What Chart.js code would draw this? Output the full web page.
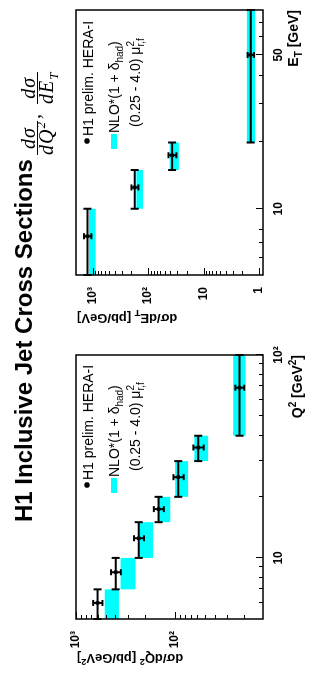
<!DOCTYPE html>
<html>
<head>
<meta charset="utf-8">
<title>H1 Inclusive Jet Cross Sections</title>
<script src="https://cdn.jsdelivr.net/npm/chart.js@4.4.1/dist/chart.umd.min.js"></script>
<style>
html, body { margin: 0; padding: 0; background: #fff; overflow: hidden; }
#page { position: absolute; left: 0; top: 0; width: 680px; height: 314px; transform-origin: 0 0; transform: translate(0, 680px) rotate(-90deg); }
#page canvas { position: absolute; top: 0; }
#q2chart { left: 0; }
#etchart { left: 340px; }
#title { position: absolute; left: 158px; top: 12px; font: bold 24px/24px 'Liberation Sans', Arial, sans-serif; white-space: nowrap; }
.frac { position: absolute; top: 20px; display: flex; flex-direction: column; align-items: center; font: italic 20px/16px 'Liberation Serif', serif; letter-spacing: 1px; }
.frac .n { border-bottom: 1.5px solid #000; align-self: stretch; text-align: center; padding-bottom: 1px; }
.frac sup, .frac sub { font-size: 13px; line-height: 0; }
.comma { position: absolute; font: italic 20px 'Liberation Serif', serif; }
</style>
</head>
<body>
<div id="page">
  <canvas id="q2chart" width="340" height="314"></canvas>
  <canvas id="etchart" width="340" height="314"></canvas>
  <div id="title">H1 Inclusive Jet Cross Sections</div>
  <div class="frac" style="left:525px"><span class="n">dσ</span><span class="d">dQ<sup>2</sup></span></div>
  <div class="comma" style="left:561px;top:22px">,</div>
  <div class="frac" style="left:576px"><span class="n">dσ</span><span class="d">dE<sub>T</sub></span></div>
</div>
<script>
// dsigma/dQ2 : Q2 bins [GeV^2], cross section [pb/GeV^2]
var q2Low = [5, 7, 10, 15, 20, 30, 40];
var q2High = [7, 10, 15, 20, 30, 40, 100];
var q2Centre = [6.0, 8.5, 12.5, 17.4, 25, 35, 69];
var q2Data = [606, 398, 233, 147, 93, 58.5, 22.4];
var q2DataErr = [65, 45, 27, 17, 11, 7, 2.3];
var q2NloLow = [369, 251, 167, 112, 74, 46.5, 19.5];
var q2NloHigh = [513, 355, 229, 149, 100, 64, 26];
var q2Ticks = [6, 7, 8, 9, 10, 20, 30, 40, 50, 60, 70, 80, 90, 100];
var q2TickLabels = { 10: '10', 100: '10²' };
var q2YTicks = [20, 30, 40, 50, 60, 70, 80, 90, 100, 200, 300, 400, 500, 600, 700, 800, 900, 1000];
var q2YTickLabels = { 100: '10²', 1000: '10³' };

// dsigma/dET : ET bins [GeV], cross section [pb/GeV]
var etLow = [5, 10, 15, 20];
var etHigh = [10, 15, 20, 80];
var etCentre = [7.5, 12.5, 17.5, 50];
var etData = [1245, 175, 37, 1.42];
var etDataErr = [190, 25, 6, 0.19];
var etNloLow = [883, 124, 28, 1.18];
var etNloHigh = [1166, 163, 41, 1.66];
var etTicks = [6, 7, 8, 10, 20, 30, 40, 50, 60, 70];
var etTickLabels = { 10: '10', 50: '50' };
var etYTicks = [1, 2, 3, 4, 5, 6, 7, 8, 9, 10, 20, 30, 40, 50, 60, 70, 80, 90, 100, 200, 300, 400, 500, 600, 700, 800, 900, 1000];
var etYTickLabels = { 1: '1', 10: '10', 100: '10²', 1000: '10³' };

var FAM = "'Liberation Sans', Arial, sans-serif";
var CYAN = '#00ffff';

// parts: strings, or {t, k} with k = 1 superscript, -1 subscript, stay = don't advance
function richText(ctx, parts, x, y, size, weight, alignRight) {
  var items = [], w = 0;
  parts.forEach(function (p) {
    if (typeof p === 'string') p = { t: p, k: 0 };
    var s = p.k ? Math.round(size * 0.72) : size;
    var font = weight + ' ' + s + 'px ' + FAM;
    ctx.font = font;
    var m = ctx.measureText(p.t).width;
    var dy = p.k === 1 ? -size * 0.42 : (p.k === -1 ? size * 0.3 : 0);
    items.push({ t: p.t, font: font, dy: dy, adv: p.stay ? 0 : m });
    w += p.stay ? 0 : m;
  });
  var cx = alignRight ? x - w : x;
  ctx.textAlign = 'left';
  ctx.textBaseline = 'alphabetic';
  items.forEach(function (it) {
    ctx.font = it.font;
    ctx.fillText(it.t, cx, y + it.dy);
    cx += it.adv;
  });
}

function line(ctx, x0, y0, x1, y1) {
  ctx.beginPath();
  ctx.moveTo(x0, y0);
  ctx.lineTo(x1, y1);
  ctx.stroke();
}

function makeChart(id, c) {
  var marks = {
    id: 'marks',
    beforeDatasetsDraw: function (chart) {
      var ctx = chart.ctx, x = chart.scales.x, y = chart.scales.y;
      ctx.save();
      ctx.fillStyle = CYAN;
      c.low.forEach(function (lo, i) {
        var x0 = x.getPixelForValue(lo), x1 = x.getPixelForValue(c.high[i]);
        var y0 = y.getPixelForValue(c.nloHigh[i]), y1 = y.getPixelForValue(c.nloLow[i]);
        ctx.fillRect(x0, y0, x1 - x0, y1 - y0);
      });
      ctx.strokeStyle = '#000';
      c.low.forEach(function (lo, i) {
        var x0 = x.getPixelForValue(lo), x1 = x.getPixelForValue(c.high[i]);
        var xc = x.getPixelForValue(c.centre[i]);
        var yc = y.getPixelForValue(c.data[i]);
        var ye0 = y.getPixelForValue(c.data[i] + c.err[i]);
        var ye1 = y.getPixelForValue(c.data[i] - c.err[i]);
        ctx.lineWidth = 2;
        line(ctx, x0, yc, x1, yc);
        line(ctx, x0, yc - 4, x0, yc + 4);
        line(ctx, x1, yc - 4, x1, yc + 4);
        line(ctx, xc, ye0, xc, ye1);
        line(ctx, xc - 3, ye0, xc + 3, ye0);
        line(ctx, xc - 3, ye1, xc + 3, ye1);
      });
      ctx.restore();
    },
    afterDraw: function (chart) {
      var ctx = chart.ctx, a = chart.chartArea, x = chart.scales.x, y = chart.scales.y;
      ctx.save();
      ctx.strokeStyle = '#000';
      ctx.fillStyle = '#000';
      ctx.lineWidth = 1;
      x.ticks.forEach(function (t) {
        var px = Math.round(x.getPixelForValue(t.value)) + 0.5;
        line(ctx, px, a.bottom, px, a.bottom - (c.xLabels[t.value] ? 7 : 4));
      });
      y.ticks.forEach(function (t) {
        var py = Math.round(y.getPixelForValue(t.value)) + 0.5;
        line(ctx, a.left, py, a.left + (c.yLabels[t.value] ? 7 : 4), py);
      });
      ctx.lineWidth = 1.5;
      ctx.strokeRect(a.left, a.top, a.right - a.left, a.bottom - a.top);

      // axis titles
      richText(ctx, c.xTitle, a.right, c.xTitleY, 14, 'bold', true);
      ctx.save();
      ctx.translate(26, a.top + 1);
      ctx.rotate(-Math.PI / 2);
      richText(ctx, c.yTitle, 0, 0, 13, 'bold', true);
      ctx.restore();

      // legend
      var lx = a.left;
      ctx.beginPath();
      ctx.arc(lx + 134, 87, 2.8, 0, Math.PI * 2);
      ctx.fill();
      richText(ctx, ['H1 prelim. HERA-I'], lx + 139, 93, 14, 'normal', false);
      ctx.fillStyle = CYAN;
      ctx.fillRect(lx + 126, 111, 15, 6);
      ctx.fillStyle = '#000';
      richText(ctx, ['NLO*(1 + δ', { t: 'had', k: -1 }, ')'], lx + 142, 119, 14, 'normal', false);
      richText(ctx, ['(0.25 - 4.0) μ', { t: '2', k: 1, stay: true }, { t: 'r,f', k: -1 }], lx + 148, 140, 14, 'normal', false);
      ctx.restore();
    }
  };

  var tickFont = { family: FAM, size: 12, weight: 'bold' };

  return new Chart(document.getElementById(id), {
    type: 'scatter',
    data: {
      datasets: [{
        label: 'H1 prelim. HERA-I',
        data: c.centre.map(function (v, i) { return { x: v, y: c.data[i] }; }),
        pointStyle: 'rect',
        pointRadius: 2.5,
        backgroundColor: '#000',
        borderColor: '#000',
        borderWidth: 0
      }]
    },
    options: {
      responsive: false,
      animation: false,
      events: [],
      layout: { padding: { top: 76, right: c.padRight, left: 0, bottom: 0 } },
      plugins: { legend: { display: false }, tooltip: { enabled: false }, title: { display: false } },
      scales: {
        x: {
          type: 'logarithmic', min: c.xMin, max: c.xMax,
          grid: { display: false }, border: { display: false },
          afterBuildTicks: function (s) { s.ticks = c.xTicks.map(function (v) { return { value: v }; }); },
          afterFit: function (s) { s.height = 51; },
          ticks: {
            autoSkip: false, maxRotation: 0, minRotation: 0, padding: 0, font: tickFont, color: '#000',
            callback: function (v) { return c.xLabels[v] || ''; }
          }
        },
        y: {
          type: 'logarithmic', min: c.yMin, max: c.yMax,
          grid: { display: false }, border: { display: false },
          afterBuildTicks: function (s) { s.ticks = c.yTicks.map(function (v) { return { value: v }; }); },
          afterFit: function (s) { s.width = c.yWidth; },
          ticks: {
            autoSkip: false, padding: 4, font: tickFont, color: '#000',
            callback: function (v) { return c.yLabels[v] || ''; }
          }
        }
      }
    },
    plugins: [marks]
  });
}

makeChart('q2chart', {
  low: q2Low, high: q2High, centre: q2Centre, data: q2Data, err: q2DataErr,
  nloLow: q2NloLow, nloHigh: q2NloHigh,
  xMin: 5, xMax: 100, yMin: 13, yMax: 1000,
  xTicks: q2Ticks, xLabels: q2TickLabels, yTicks: q2YTicks, yLabels: q2YTickLabels,
  padRight: 15, yWidth: 61, xTitleY: 302,
  xTitle: ['Q', { t: '2', k: 1 }, ' [GeV', { t: '2', k: 1 }, ']'],
  yTitle: ['dσ/dQ', { t: '2', k: 1 }, ' [pb/GeV', { t: '2', k: 1 }, ']']
});

makeChart('etchart', {
  low: etLow, high: etHigh, centre: etCentre, data: etData, err: etDataErr,
  nloLow: etNloLow, nloHigh: etNloHigh,
  xMin: 5, xMax: 80, yMin: 0.85, yMax: 2000,
  xTicks: etTicks, xLabels: etTickLabels, yTicks: etYTicks, yLabels: etYTickLabels,
  padRight: 10, yWidth: 65, xTitleY: 298,
  xTitle: ['E', { t: 'T', k: -1 }, ' [GeV]'],
  yTitle: ['dσ/dE', { t: 'T', k: -1 }, ' [pb/GeV]']
});
</script>
</body>
</html>
